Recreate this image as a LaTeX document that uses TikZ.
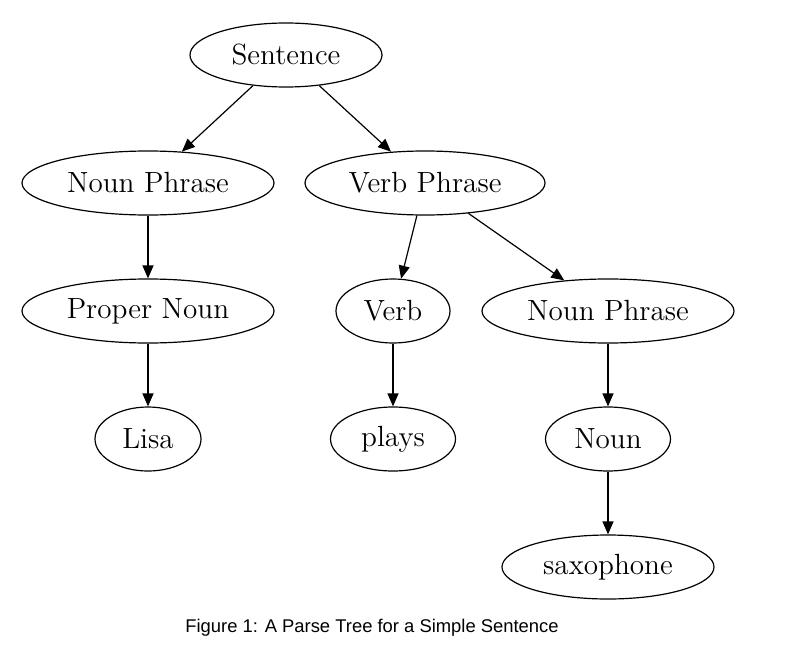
\documentclass[tikz,border=0pt]{standalone}
\usepackage{fontspec}
\newfontfamily\captionfont{Liberation Sans}
\usetikzlibrary{shapes.geometric}
\usetikzlibrary{arrows.meta}
\usetikzlibrary{positioning}
\tikzset{
	node distance=31.4pt,
	every node/.append style={align=center},
	every edge/.append style={-{Triangle[length=6.5pt,width=5.5pt]}, line width=0.6pt},
	word/.style={draw,
		    ellipse,
		    line width=0.6pt,
		    inner ysep=1pt,
	    	    minimum height=32pt,
	    	    font=\fontsize{14.6}{17}\selectfont}
}

\begin{document}
\begin{tikzpicture}

	\useasboundingbox (0,0) rectangle (395.5pt,-329pt);

	\node [word, minimum width=96pt] (sentence) at (143pt,-27.5pt) {Sentence};
	\node [word, minimum width=126pt, below=of sentence, xshift=-69pt] (np1) {Noun Phrase};
	\node [word, minimum width=120pt, below=of sentence, xshift=69.5pt] (vp) {Verb Phrase};
	\node [word, minimum width=126pt, below=of np1] (pn) {Proper Noun};
	\node [word, minimum width=57pt, below=of vp, xshift=-16pt] (verb) {Verb};
	\node [word, minimum width=126pt, below=of vp, xshift=91.5pt] (np2) {Noun Phrase};
	\node [word, minimum width=53pt, below=of pn] (lisa) {Lisa};
	\node [word, minimum width=62.5pt, below=of verb] (plays) {plays};
	\node [word, minimum width=62.5pt, below=of np2] (noun) {Noun};
	\node [word, minimum width=106pt, below=of noun] (sax) {saxophone};

	\path (sentence) edge (np1);
	\path (sentence) edge (vp);
	\path (np1) edge (pn);
	\path (pn) edge (lisa);
	\path (vp) edge (verb);
	\path (vp) edge (np2);
	\path (verb) edge (plays);
	\path (np2) edge (noun);
	\path (noun) edge (sax);

	\node [font=\captionfont\fontsize{9.2}{11}\selectfont] (caption) at (186pt,-314pt) {Figure 1: A Parse Tree for a Simple Sentence};

\end{tikzpicture}
\end{document}
